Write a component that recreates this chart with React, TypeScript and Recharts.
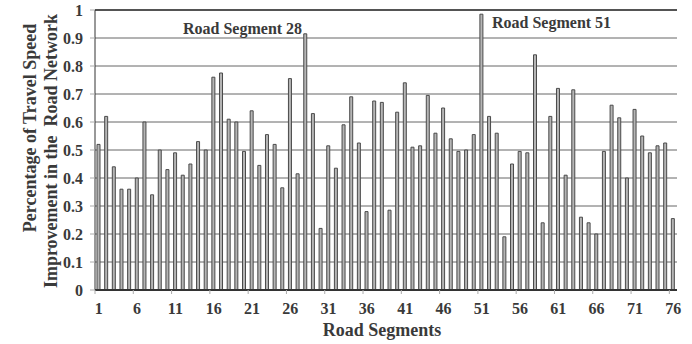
import { Bar, BarChart, CartesianGrid, ReferenceLine, XAxis, YAxis } from 'recharts'

const segments = Array.from({ length: 76 }, (_, i) => i + 1)

const improvement = [
    0.52, 0.62, 0.44, 0.36, 0.36, 0.4, 0.6, 0.34, 0.5, 0.43,
    0.49, 0.41, 0.45, 0.53, 0.5, 0.76, 0.775, 0.61, 0.6, 0.495,
    0.64, 0.445, 0.555, 0.52, 0.365, 0.755, 0.415, 0.915, 0.63, 0.22,
    0.515, 0.435, 0.59, 0.69, 0.525, 0.28, 0.675, 0.67, 0.285, 0.635,
    0.74, 0.51, 0.515, 0.695, 0.56, 0.65, 0.54, 0.495, 0.5, 0.555,
    0.985, 0.62, 0.56, 0.19, 0.45, 0.495, 0.49, 0.84, 0.24, 0.62,
    0.72, 0.41, 0.715, 0.26, 0.24, 0.2, 0.495, 0.66, 0.615, 0.4,
    0.645, 0.55, 0.49, 0.515, 0.525, 0.255,
]

const yTicks = [0, 0.1, 0.2, 0.3, 0.4, 0.5, 0.6, 0.7, 0.8, 0.9, 1]
const xLabels = [1, 6, 11, 16, 21, 26, 31, 36, 41, 46, 51, 56, 61, 66, 71, 76]

const data = segments.map((seg, i) => ({ seg, value: improvement[i] }))

const font = '"Liberation Serif", "Times New Roman", serif'
const textColor = '#3a3a3a'
const band = 582 / segments.length

function SegmentTick(props: any) {
    const { x, y, payload } = props
    if (!xLabels.includes(payload.value)) return <g />
    return (
        <g>
            <line x1={x - band / 2} x2={x - band / 2} y1={y - 8} y2={y - 4} stroke="#aaa" />
            <text
                x={x}
                y={y + 16}
                textAnchor="middle"
                fontFamily={font}
                fontWeight="bold"
                fontSize={16}
                fill={textColor}
            >
                {payload.value}
            </text>
        </g>
    )
}

export default function App() {
    return (
        <div style={{ position: 'absolute', left: 0, top: 0, width: 692, height: 344, background: '#fff' }}>
            <BarChart
                width={692}
                height={344}
                data={data}
                margin={{ top: 10, right: 15, left: 0, bottom: 0 }}
                barSize={3}
            >
                <CartesianGrid horizontal vertical={false} stroke="#666" />
                <XAxis
                    dataKey="seg"
                    height={54}
                    interval={0}
                    tickLine={false}
                    tick={<SegmentTick />}
                    axisLine={{ stroke: '#333', strokeWidth: 2 }}
                />
                <YAxis
                    domain={[0, 1]}
                    ticks={yTicks}
                    width={95}
                    tickSize={5}
                    tickMargin={7}
                    tick={{ fontFamily: font, fontWeight: 'bold', fontSize: 16, fill: textColor }}
                    tickLine={{ stroke: '#aaa' }}
                    axisLine={{ stroke: '#333' }}
                />
                <YAxis
                    yAxisId="frame"
                    orientation="right"
                    domain={[0, 1]}
                    width={0}
                    tick={false}
                    tickLine={false}
                    axisLine={{ stroke: '#333', strokeWidth: 2 }}
                />
                <ReferenceLine y={1} stroke="#333" strokeWidth={1.5} />
                <Bar
                    dataKey="value"
                    fill="#b5b5b5"
                    stroke="#4a4a4a"
                    strokeWidth={1}
                    isAnimationActive={false}
                />
                <text x={183} y={34} fontFamily={font} fontWeight="bold" fontSize={16} fill={textColor}>
                    Road Segment 28
                </text>
                <text x={492} y={28} fontFamily={font} fontWeight="bold" fontSize={16} fill={textColor}>
                    Road Segment 51
                </text>
                <text
                    x={382}
                    y={336}
                    textAnchor="middle"
                    fontFamily={font}
                    fontWeight="bold"
                    fontSize={18}
                    fill={textColor}
                >
                    Road Segments
                </text>
                <text
                    transform="translate(36, 128) rotate(-90)"
                    textAnchor="middle"
                    fontFamily={font}
                    fontWeight="bold"
                    fontSize={18}
                    fill={textColor}
                >
                    Percentage of Travel Speed
                </text>
                <text
                    transform="translate(57, 151) rotate(-90)"
                    textAnchor="middle"
                    fontFamily={font}
                    fontWeight="bold"
                    fontSize={18}
                    fill={textColor}
                    style={{ whiteSpace: 'pre' }}
                >
                    {'Improvement in the  Road Network'}
                </text>
            </BarChart>
        </div>
    )
}
